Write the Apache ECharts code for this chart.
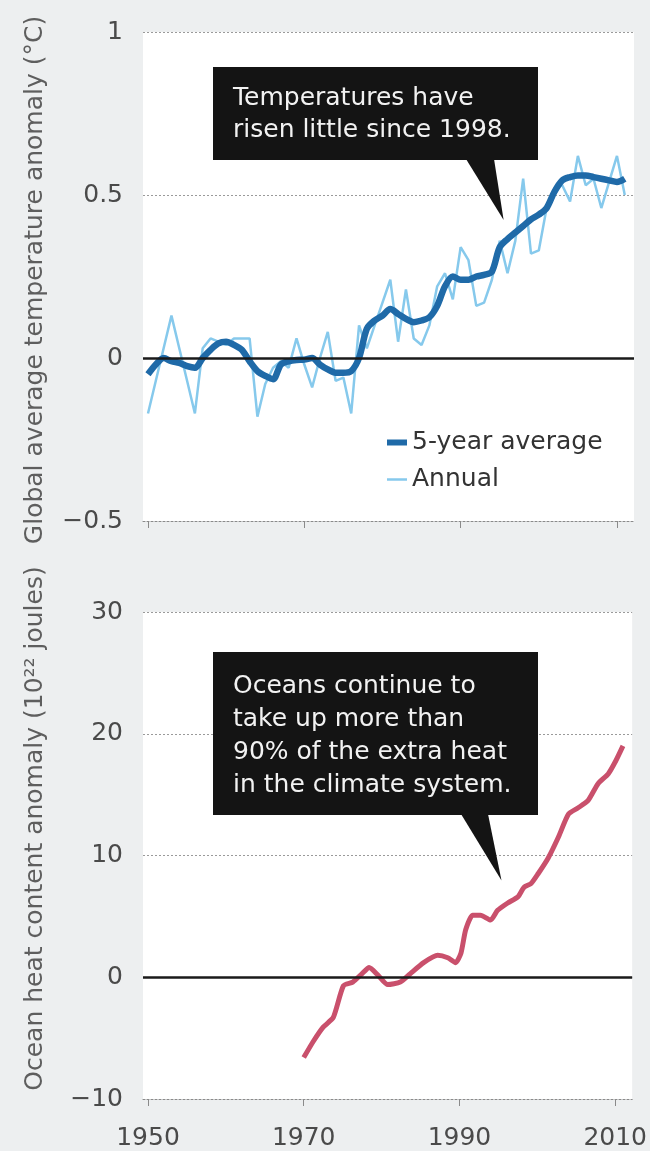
<!DOCTYPE html>
<html>
<head>
<meta charset="utf-8">
<script src="https://cdn.jsdelivr.net/npm/echarts@6/dist/echarts.min.js"></script>
<style>
html,body{margin:0;padding:0;background:#edeff0;}
#chart{width:650px;height:1151px;}
</style>
</head>
<body>
<div id="chart"></div>
<script>
// ---------- DATA ----------
const tempYears = [1950,1951,1952,1953,1954,1955,1956,1957,1958,1959,1960,1961,1962,1963,1964,1965,1966,1967,1968,1969,1970,1971,1972,1973,1974,1975,1976,1977,1978,1979,1980,1981,1982,1983,1984,1985,1986,1987,1988,1989,1990,1991,1992,1993,1994,1995,1996,1997,1998,1999,2000,2001,2002,2003,2004,2005,2006,2007,2008,2009,2010,2011];
const annualTemp = [-0.17,-0.07,0.03,0.13,0.03,-0.07,-0.17,0.03,0.06,0.05,0.04,0.06,0.06,0.06,-0.18,-0.08,-0.03,-0.01,-0.03,0.06,-0.02,-0.09,0.00,0.08,-0.07,-0.06,-0.17,0.10,0.03,0.10,0.17,0.24,0.05,0.21,0.06,0.04,0.10,0.22,0.26,0.18,0.34,0.30,0.16,0.17,0.24,0.36,0.26,0.36,0.55,0.32,0.33,0.46,0.52,0.53,0.48,0.62,0.53,0.55,0.46,0.54,0.62,0.50];
const fiveYearTemp = [-0.05,-0.02,0.00,-0.01,-0.015,-0.025,-0.03,0.00,0.025,0.045,0.05,0.04,0.025,-0.01,-0.04,-0.055,-0.065,-0.02,-0.01,-0.006,-0.005,0.00,-0.02,-0.035,-0.045,-0.045,-0.04,0.00,0.09,0.115,0.13,0.15,0.135,0.12,0.11,0.115,0.125,0.16,0.22,0.25,0.24,0.24,0.25,0.255,0.265,0.34,0.365,0.385,0.405,0.425,0.44,0.46,0.51,0.545,0.555,0.56,0.56,0.555,0.55,0.545,0.54,0.55];
const oceanYears = [1970.0,1971.2,1972.5,1973.8,1975.1,1976.3,1977.5,1978.4,1979.5,1980.8,1982.4,1983.7,1985.4,1987.2,1988.5,1989.5,1990.2,1990.8,1991.7,1992.7,1994.0,1994.9,1996.2,1997.5,1998.3,1999.2,2000.1,2001.4,2002.7,2004.0,2005.2,2006.5,2007.8,2009.1,2010.1,2011.0];
const oceanHeat = [-6.6,-5.3,-4.1,-3.3,-0.7,-0.4,0.3,0.8,0.2,-0.6,-0.4,0.3,1.2,1.8,1.6,1.2,2.0,3.9,5.1,5.1,4.7,5.5,6.1,6.6,7.4,7.7,8.5,9.8,11.5,13.4,13.9,14.5,15.9,16.7,17.8,19.0];
const yearTicks = [1950,1970,1990,2010];
const tempTicks = [-0.5,0,0.5,1];
const heatTicks = [-10,0,10,20,30];
const seriesNames = ['5-year average','Annual'];
const tempNote = ['Temperatures have','risen little since 1998.'];
const oceanNote = ['Oceans continue to','take up more than','90% of the extra heat','in the climate system.'];
const tempNoteTip = [1995.5, 0.423];
const oceanNoteTip = [1995.4, 7.95];

// ---------- CHART ----------
const FONT = '"DejaVu Sans", sans-serif';
const chart = echarts.init(document.getElementById('chart'), null, {renderer:'canvas', width:650, height:1151});

const zip = (xs, ys) => xs.map((x, i) => [x, ys[i]]);
const fmtNum = v => v === 0 ? '0' : (v < 0 ? '\u2212' : '') + Math.abs(v);

const xMin = 1949.36, xMax = 2012.18;

function xAxis(gi, showLabels) {
  return {
    type:'value', gridIndex:gi, min:xMin, max:xMax,
    axisLine:{show:true, onZero:false, lineStyle:{color:'#8a8a8a', type:[2,2], width:1}},
    axisTick:{show:true, customValues:yearTicks, length:7, lineStyle:{color:'#8a8a8a', width:1}},
    axisLabel:{show:showLabels, customValues:yearTicks, formatter:v => String(v), fontSize:25, color:'#4a4a4a', fontFamily:FONT, margin:27},
    splitLine:{show:false}
  };
}
function yAxis(gi, min, max, interval, name, pad) {
  return {
    type:'value', gridIndex:gi, min:min, max:max, interval:interval,
    axisLine:{show:false}, axisTick:{show:false},
    axisLabel:{formatter:fmtNum, fontSize:25, color:'#4a4a4a', fontFamily:FONT, margin:20},
    splitLine:{show:true, lineStyle:{color:'#9a9a9a', type:[2,2], width:1}},
    name:name, nameLocation:'middle', nameRotate:90, nameGap:95,
    nameTextStyle:{fontSize:25, color:'#5e5e5e', fontFamily:FONT, padding:pad}
  };
}

const option = {
  backgroundColor:'#edeff0',
  animation:false,
  textStyle:{fontFamily:FONT},
  grid:[
    {left:143, top:32, width:491, height:489, show:true, backgroundColor:'#ffffff', borderWidth:0},
    {left:143, top:612, width:491, height:487, show:true, backgroundColor:'#ffffff', borderWidth:0}
  ],
  xAxis:[xAxis(0,false), xAxis(1,true)],
  yAxis:[
    yAxis(0, tempTicks[0], tempTicks[tempTicks.length-1], 0.5, 'Global average temperature anomaly (°C)', [0,7,0,0]),
    yAxis(1, heatTicks[0], heatTicks[heatTicks.length-1], 10, 'Ocean heat content anomaly (10²² joules)', [0,0,0,54])
  ],
  legend:{
    data:[
      {name:seriesNames[0], icon:'path://M0,0L20,0L20,6L0,6Z', itemStyle:{borderWidth:0}},
      {name:seriesNames[1], icon:'path://M0,0L20,0L20,2.5L0,2.5Z', itemStyle:{borderWidth:0}}
    ],
    symbolKeepAspect:true,
    orient:'vertical', left:382, top:425, itemGap:12, itemWidth:20, itemHeight:14,
    selectedMode:false, textStyle:{fontSize:25, color:'#333', fontFamily:FONT}
  },
  series:[
    {type:'line', name:'zero0', xAxisIndex:0, yAxisIndex:0, data:[], z:1, silent:true,
     markLine:{silent:true, symbol:'none', label:{show:false}, data:[{yAxis:0}], lineStyle:{color:'#1a1a1a', width:2.5, type:'solid'}}},
    {type:'line', name:'zero1', xAxisIndex:1, yAxisIndex:1, data:[], z:1, silent:true,
     markLine:{silent:true, symbol:'none', label:{show:false}, data:[{yAxis:0}], lineStyle:{color:'#1a1a1a', width:2.5, type:'solid'}}},
    {type:'line', name:seriesNames[1], xAxisIndex:0, yAxisIndex:0, data:zip(tempYears, annualTemp),
     symbol:'none', showSymbol:false, z:3, color:'#86c9ec', lineStyle:{color:'#86c9ec', width:2.5}},
    {type:'line', name:seriesNames[0], xAxisIndex:0, yAxisIndex:0, data:zip(tempYears, fiveYearTemp),
     symbol:'none', showSymbol:false, smooth:0.3, z:4, color:'#1f6aa8', lineStyle:{color:'#1f6aa8', width:6.5}},
    {type:'line', name:'Ocean heat content', xAxisIndex:1, yAxisIndex:1, data:zip(oceanYears, oceanHeat),
     symbol:'none', showSymbol:false, smooth:0.2, z:4, color:'#c9506c', lineStyle:{color:'#c9506c', width:5}}
  ]
};
chart.setOption(option);

// ---------- ANNOTATIONS ----------
function note(box, lines, lineY, base, tip) {
  const els = [];
  els.push({type:'rect', shape:{x:box[0], y:box[1], width:box[2], height:box[3]}, style:{fill:'#141414'}, z:10});
  els.push({type:'polygon', shape:{points:[[base[0], box[1]+box[3]-1],[base[1], box[1]+box[3]-1],[tip[0], tip[1]]]}, style:{fill:'#141414'}, z:10});
  lines.forEach((t, i) => {
    els.push({type:'text', x:box[0]+20, y:lineY[i], z:11,
      style:{text:t, fill:'#f2f2f2', font:'25px ' + FONT, align:'left', verticalAlign:'middle', textAlign:'left', textVerticalAlign:'middle'}});
  });
  return els;
}
const tip1 = chart.convertToPixel({gridIndex:0}, tempNoteTip);
const tip2 = chart.convertToPixel({gridIndex:1}, oceanNoteTip);
chart.setOption({
  graphic:[].concat(
    note([213,67,325,93], tempNote, [98,130], [466,494], tip1),
    note([213,652,325,163], oceanNote, [686,719,752,785], [461,488], tip2)
  )
});
</script>
</body>
</html>
